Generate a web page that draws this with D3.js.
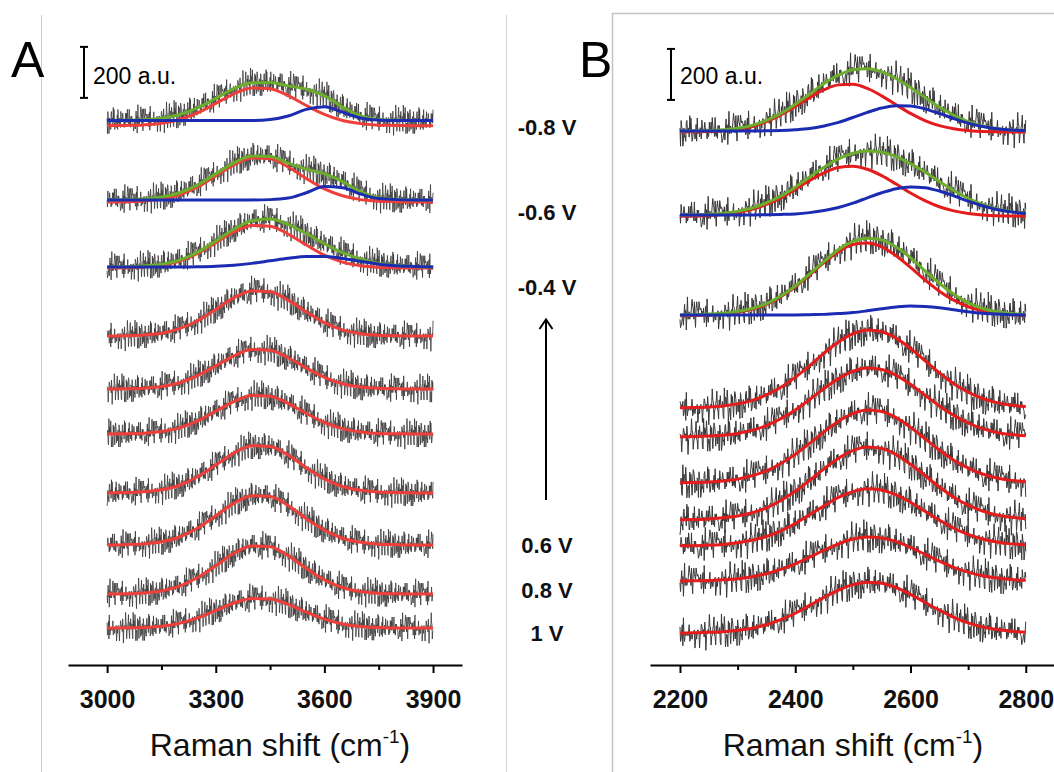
<!DOCTYPE html>
<html><head><meta charset="utf-8">
<script src="https://cdn.jsdelivr.net/npm/d3@7"></script>
<style>
body{margin:0;background:#fff}
svg{display:block;font-family:"Liberation Sans",Arial,sans-serif}
</style>
</head><body>
<svg id="c" width="1054" height="772"></svg>
<script>
// ---------------- DATA ----------------
const xTicksA = [3000, 3300, 3600, 3900];
const xMinorA = [3150, 3450, 3750];
const xTicksB = [2200, 2400, 2600, 2800];
const xMinorB = [2300, 2500, 2700];
const axisTitle = "Raman shift (cm";
const axisTitleSup = "-1";
const scaleBarValue = 200;
const scaleBarLabel = "200 a.u.";
const voltageLabels = ["-0.8 V", "-0.6 V", "-0.4 V", "0.6 V", "0.8 V", "1 V"];

// Raman shift sample grids (cm-1)
const gridA = [3000,3050,3100,3150,3200,3250,3300,3350,3400,3450,3500,3550,3600,3650,3700,3750,3800,3850,3900];
const gridB = [2200,2225,2250,2275,2300,2325,2350,2375,2400,2425,2450,2475,2500,2525,2550,2575,2600,2625,2650,2675,2700,2725,2750,2775,2800];

// Panel A: vertical offsets of traces (a.u.), top (-0.8 V) to bottom (1 V)
const offsetA    = [2135, 1824, 1561, 1290, 1082, 906, 675, 471, 278, 145];
const redOffsetA = [2115, 1816, 1557, 1290, 1082, 906, 675, 471, 278, 145];
// Panel A fitted components (a.u. above offset)
const redA = [
  [0,1,3,9,24,50,87,125,148,145,118,79,44,20,8,2,1,0,0],
  [0,1,4,11,28,59,102,145,172,169,137,92,51,24,9,3,1,0,0],
  [0,1,4,11,27,57,99,141,167,164,133,90,50,23,9,3,1,0,0],
  [0,1,4,11,29,60,104,150,177,174,141,95,53,24,9,3,1,0,0],
  [0,1,3,10,25,53,91,130,155,152,123,83,46,21,8,3,1,0,0],
  [0,1,3,10,24,51,89,127,151,148,120,81,45,21,8,2,1,0,0],
  [0,1,4,12,30,63,109,156,185,182,148,99,55,25,10,3,1,0,0],
  [0,1,4,12,31,66,114,163,193,190,154,103,58,26,10,3,1,0,0],
  [0,1,4,12,31,65,111,160,189,186,151,101,56,26,10,3,1,0,0],
  [0,1,2,7,19,40,68,98,116,114,93,62,35,16,6,2,0,0,0]
];
const blueA = [
  [0,0,0,0,0,0,0,0,0,4,18,44,54,33,10,2,0,0,0],
  [0,0,0,0,0,0,0,0,0,1,7,28,52,48,23,5,1,0,0],
  [0,0,0,0,0,1,3,7,14,24,34,41,41,33,22,11,5,2,0]
];
const greenA = [
  [0,1,3,9,24,50,87,125,148,149,136,123,98,53,18,4,1,0,0],
  [0,1,4,11,28,59,102,145,172,170,144,120,103,72,32,8,2,0,0],
  [0,1,4,11,27,58,102,148,181,188,167,131,91,56,31,14,6,2,0]
];

// Panel B
const offsetB    = [2094, 1765, 1373, 1008, 894, 714, 569, 467, 329, 125];
const redOffsetB = [2090, 1760, 1370, 1008, 894, 714, 569, 467, 329, 125];
const redB = [
  [0,1,2,5,11,22,41,67,100,135,166,185,187,171,142,107,73,45,25,13,6,2,1,0,0],
  [0,1,3,7,14,27,46,72,105,140,170,191,196,184,159,126,91,61,37,21,11,5,2,1,0],
  [0,1,3,6,13,25,44,74,113,160,208,251,279,285,270,235,189,140,96,61,35,19,9,4,2],
  [1,2,4,8,16,30,51,81,120,166,215,259,291,306,299,274,233,186,138,95,62,37,21,11,6],
  [1,2,4,7,14,26,45,72,106,147,190,229,258,271,265,242,207,164,122,85,55,33,18,10,5],
  [1,2,4,8,15,28,47,76,112,155,200,242,272,286,280,256,218,174,129,89,58,35,19,10,5],
  [1,2,4,8,15,28,47,76,112,155,200,242,272,286,280,256,218,174,129,89,58,35,19,10,5],
  [1,1,3,6,12,22,37,59,88,122,157,190,213,224,219,200,171,136,101,70,45,27,15,8,4],
  [0,1,2,5,9,17,29,46,68,94,121,146,165,173,169,155,132,105,78,54,35,21,12,6,3],
  [0,1,3,5,11,19,33,53,78,109,140,169,190,200,196,179,152,121,90,62,40,24,14,7,4]
];
const blueB = [
  [0,0,0,0,0,0,1,2,5,10,20,34,53,73,90,99,98,87,69,49,31,18,9,4,2],
  [0,0,0,0,0,0,1,2,4,9,17,29,46,67,87,103,110,107,94,75,54,36,21,12,6],
  [0,0,0,0,0,0,0,0,0,1,2,5,9,16,24,31,35,33,28,20,12,6,3,1,0]
];
const greenB = [
  [0,1,2,5,11,22,42,69,105,145,186,219,240,244,232,206,171,132,94,62,37,20,10,4,2],
  [0,1,3,7,14,27,47,74,109,149,187,220,242,251,246,229,201,168,131,96,65,41,23,13,6],
  [0,1,3,6,13,25,44,74,113,161,210,256,288,301,294,266,224,173,124,81,47,25,12,5,2]
];

// Measured-noise residual sample (relative units), reused along every raw spectrum
const noiseSample = [
  3,-2,5,-6,1,8,-3,-9,4,2,-1,6,-4,0,7,-7,2,-3,9,-5,
  1,4,-8,3,-2,6,0,-5,2,10,-4,-1,5,-6,3,-9,1,7,-2,-4,
  4,0,-7,6,2,-3,8,-1,-6,3,5,-10,2,-2,4,7,-5,1,-3,6,
  -8,0,3,-4,9,-2,-6,5,1,-1,-7,4,2,-5,8,-3,0,6,-9,3,
  -1,5,-4,2,7,-6,1,-2,4,-8,6,0,-3,10,-5,2,-7,3,1,-4,
  5,-2,8,-6,0,3,-9,4,-1,6,-3,2,-5,7,-8,1,4,-2,-6,9,
  0,-4,3,5,-7,2,-1,6,-3,-9,4,1,-5,8,-2,3,-6,0,7,-4,
  2,-8,5,-1,3,-3,6,-7,1,9,-5,0,4,-2,-6,8,-3,2,5,-9,
  1,-1,7,-4,3,-6,0,6,-2,4,-8,2,-5,10,-3,1,-7,5,-1,3,
  -4,8,-6,2,0,-9,6,-2,4,-5,1,7,-3,-8,3,0,5,-6,2,-1,
  9,-4,1,-7,4,-2,6,-3,0,-5,8
];

// ---------------- LAYOUT / STYLE ----------------
const W = 1054, H = 772;
const axisY = 665;
const pxPerAU = 0.255;
const svg = d3.select("#c");
const y = d3.scaleLinear().domain([0, 2600]).range([axisY, axisY - 2600 * pxPerAU]);

const COL = { gray: "#383838", redA: "#ef3f3a", redB: "#e41c1c", green: "#6cad2c", blue: "#1c2cb2" };

// frame lines
svg.append("line").attr("x1", 41.5).attr("x2", 41.5).attr("y1", 15).attr("y2", H).attr("stroke", "#cfcfcf");
svg.append("line").attr("x1", 506.5).attr("x2", 506.5).attr("y1", 15).attr("y2", H).attr("stroke", "#d2d2d2");
svg.append("path").attr("d", `M612.5,${H}V13.5H${W}`).attr("fill", "none").attr("stroke", "#c4c4c4").attr("stroke-width", 1.5);

function interp(grid, arr, xv) {
  const i = Math.min(grid.length - 2, Math.max(0, d3.bisectRight(grid, xv) - 1));
  const t = (xv - grid[i]) / (grid[i + 1] - grid[i]);
  return arr[i] + (arr[i + 1] - arr[i]) * t;
}

function drawPanel(p) {
  const g = svg.append("g");
  const x = p.x;
  const N = noiseSample.length;
  const fitLine = (off) => d3.line().x((d, i) => x(p.grid[i])).y(d => y(off + d)).curve(d3.curveMonotoneX);

  p.red.forEach((redArr, t) => {
    const hasComp = t < p.green.length;
    const base = hasComp ? p.green[t] : redArr;
    const off = hasComp ? p.offset[t] : p.redOffset[t];
    // raw spectrum
    const pts = [];
    const x0 = p.grid[0], x1 = p.grid[p.grid.length - 1];
    for (let xv = x0, i = 0; xv <= x1; xv += p.step, i++) {
      const v = noiseSample[(i * p.stride + t * 41) % N];
      const nz = Math.sign(v) * Math.pow(Math.abs(v), 1.5) / Math.sqrt(10) * p.noiseScale;
      pts.push([x(xv), y(off + interp(p.grid, base, xv) + nz)]);
    }
    g.append("path").attr("d", d3.line()(pts)).attr("fill", "none")
      .attr("stroke", COL.gray).attr("stroke-width", p.grayW);
    // fits
    g.append("path").attr("d", fitLine(p.redOffset[t])(redArr)).attr("fill", "none")
      .attr("stroke", p.redCol).attr("stroke-width", 3);
    if (hasComp) {
      g.append("path").attr("d", fitLine(p.offset[t])(p.green[t])).attr("fill", "none")
        .attr("stroke", COL.green).attr("stroke-width", 3);
      g.append("path").attr("d", fitLine(p.offset[t])(p.blue[t])).attr("fill", "none")
        .attr("stroke", COL.blue).attr("stroke-width", 3);
    }
  });

  // axis
  const ax = g.append("g").attr("transform", `translate(0,${axisY})`)
    .call(d3.axisBottom(x).tickValues(p.ticks).tickSize(8).tickSizeOuter(0).tickPadding(17).tickFormat(d3.format("d")));
  ax.select(".domain").attr("stroke-width", 2).attr("stroke", "#000");
  ax.selectAll(".tick line").attr("stroke-width", 2);
  ax.selectAll(".tick text").attr("font-size", 25).attr("font-weight", "bold").attr("fill", "#111")
    .attr("font-family", "'Liberation Sans',Arial,sans-serif");
  const mx = g.append("g").attr("transform", `translate(0,${axisY})`)
    .call(d3.axisBottom(x).tickValues(p.minor).tickSize(5).tickSizeOuter(0).tickFormat(""));
  mx.select(".domain").remove();
  mx.selectAll(".tick line").attr("stroke-width", 2);

  const tt = g.append("text").attr("x", p.titleX).attr("y", 756).attr("text-anchor", "middle")
    .attr("font-size", 32).attr("fill", "#111");
  tt.append("tspan").text(axisTitle);
  tt.append("tspan").attr("dy", -13).attr("font-size", 19).text(axisTitleSup);
  tt.append("tspan").attr("dy", 13).text(")");

  // panel letter
  g.append("text").attr("x", p.letterX).attr("y", 77).attr("font-size", 50).attr("fill", "#000").text(p.letter);

  // scale bar
  const sb = g.append("g");
  const yb0 = y(p.barBase), yb1 = y(p.barBase + scaleBarValue);
  sb.append("line").attr("x1", p.barX).attr("x2", p.barX).attr("y1", yb0).attr("y2", yb1).attr("stroke", "#000").attr("stroke-width", 2);
  [yb0, yb1].forEach(v => sb.append("line").attr("x1", p.barX - 4).attr("x2", p.barX + 4).attr("y1", v).attr("y2", v).attr("stroke", "#000").attr("stroke-width", 2));
  sb.append("text").attr("x", p.barX + 9).attr("y", 84).attr("font-size", 23).attr("fill", "#000").text(scaleBarLabel);
}

drawPanel({
  x: d3.scaleLinear().domain([2892, 3980]).range([68, 462]),
  grid: gridA, red: redA, blue: blueA, green: greenA,
  offset: offsetA, redOffset: redOffsetA,
  ticks: xTicksA, minor: xMinorA, step: 1, stride: 7, noiseScale: 6, grayW: 0.8,
  redCol: COL.redA, titleX: 280, letter: "A", letterX: 11, barX: 84, barBase: 2224
});
drawPanel({
  x: d3.scaleLinear().domain([2148, 2849]).range([650, 1054]),
  grid: gridB, red: redB, blue: blueB, green: greenB,
  offset: offsetB, redOffset: redOffsetB,
  ticks: xTicksB, minor: xMinorB, step: 1, stride: 7, noiseScale: 7, grayW: 1,
  redCol: COL.redB, titleX: 853, letter: "B", letterX: 579, barX: 671, barBase: 2216
});

// voltage labels and arrow
const labelYs = [135, 220, 295, 553, 598, 641];
svg.append("g").selectAll("text").data(voltageLabels).join("text")
  .attr("x", 547).attr("y", (d, i) => labelYs[i]).attr("text-anchor", "middle")
  .attr("font-size", 22).attr("font-weight", "bold").attr("fill", "#111").text(d => d);
svg.append("line").attr("x1", 546).attr("x2", 546).attr("y1", 500).attr("y2", 320).attr("stroke", "#000").attr("stroke-width", 2);
svg.append("path").attr("d", "M539.5,329L546,319.5L552.5,329").attr("fill", "none").attr("stroke", "#000").attr("stroke-width", 2);
</script>
</body></html>
